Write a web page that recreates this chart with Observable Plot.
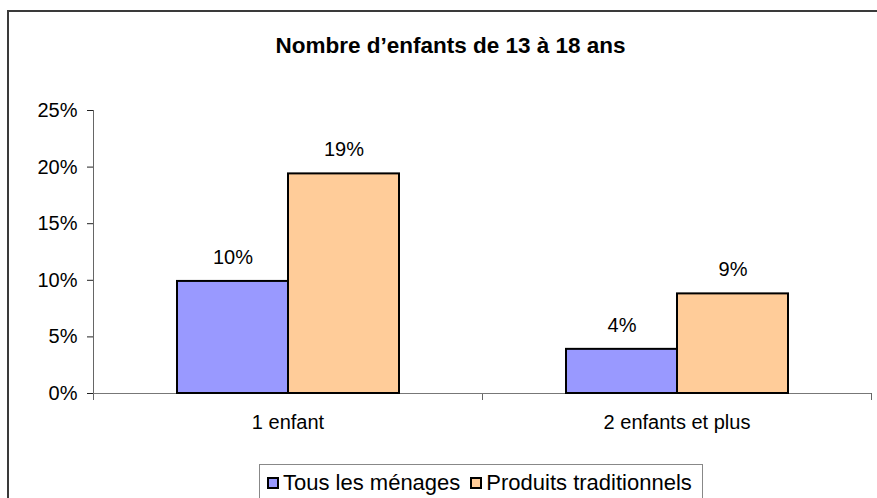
<!DOCTYPE html>
<html>
<head>
<meta charset="utf-8">
<script src="https://cdn.jsdelivr.net/npm/d3@7"></script>
<script src="https://cdn.jsdelivr.net/npm/@observablehq/plot@0.6"></script>
<style>
  html, body { margin: 0; padding: 0; background: #fff; }
  #wrap { position: relative; width: 877px; height: 498px; overflow: hidden; background: #fff;
          font-family: "Liberation Sans", Arial, sans-serif; color: #000; }
  #border { position: absolute; left: 7px; top: 10px; width: 900px; height: 600px; border: 2px solid #3a3a3a; box-sizing: border-box; }
  #title { position: absolute; left: 0; top: 32px; width: 901px; text-align: center; font-weight: bold; font-size: 22.5px; line-height: 27px; }
  #chart { position: absolute; left: 0; top: 0; }
  #legend { position: absolute; left: 259px; top: 464px; width: 444px; height: 60px; border: 1px solid #888; box-sizing: border-box;
            font-size: 22px; padding-left: 7px; padding-top: 4px; white-space: nowrap; }
  .item { display: inline-flex; align-items: center; margin-right: 10px; }
  .sw { display: inline-block; width: 12px; height: 12px; border: 2px solid #000; box-sizing: border-box; margin-right: 4px; }
</style>
</head>
<body>
<div id="wrap">
  <div id="border"></div>
  <div id="title"></div>
  <div id="chart"></div>
  <div id="legend"></div>
</div>
<script>
const titleText = "Nombre d’enfants de 13 à 18 ans";
const categories = ["1 enfant", "2 enfants et plus"];
const series = ["Tous les ménages", "Produits traditionnels"];
const tousValues = [0.099, 0.039];
const produitsValues = [0.194, 0.088];
const yTicks = [0, 0.05, 0.10, 0.15, 0.20, 0.25];
const colors = ["#9999FF", "#FFCC99"];

const data = [];
categories.forEach((c, i) => {
  data.push({cat: c, series: series[0], value: tousValues[i]});
  data.push({cat: c, series: series[1], value: produitsValues[i]});
});
const pct = v => Math.round(v * 100) + "%";

document.getElementById("title").textContent = titleText;

const chart = Plot.plot({
  width: 877,
  height: 498,
  marginLeft: 92,
  marginRight: 6,
  marginTop: 110,
  marginBottom: 105,
  style: {fontFamily: "'Liberation Sans', Arial, sans-serif", fontSize: "20px", color: "#000", background: "transparent", overflow: "visible"},
  fx: {domain: categories, padding: 0, label: null},
  x: {domain: series, paddingInner: 0, paddingOuter: 0.752, axis: null},
  y: {domain: [0, 0.25], label: null},
  color: {domain: series, range: colors},
  marks: [
    Plot.frame({anchor: "left", facetAnchor: "left", stroke: "#666", insetBottom: -6}),
    Plot.frame({anchor: "right", stroke: "#666", insetTop: 283, insetBottom: -6}),
    Plot.ruleY([0], {stroke: "#777"}),
    Plot.barY(data, {fx: "cat", x: "series", y: "value", fill: "series", stroke: "#000", strokeWidth: 2}),
    Plot.text(data, {fx: "cat", x: "series", y: "value", text: d => pct(d.value), dy: -24, lineAnchor: "middle", fontSize: 20}),
    Plot.axisY({ticks: yTicks, tickFormat: pct, tickSize: 6, tickPadding: 10, stroke: "#222", fontSize: 20, label: null}),
    Plot.axisFx({anchor: "bottom", tickSize: 0, tickPadding: 21, fontSize: 20, label: null})
  ]
});
document.getElementById("chart").appendChild(chart);

const legend = document.getElementById("legend");
series.forEach((s, i) => {
  const item = document.createElement("span");
  item.className = "item";
  const sw = document.createElement("span");
  sw.className = "sw";
  sw.style.background = colors[i];
  item.appendChild(sw);
  item.appendChild(document.createTextNode(s));
  legend.appendChild(item);
});
</script>
</body>
</html>
